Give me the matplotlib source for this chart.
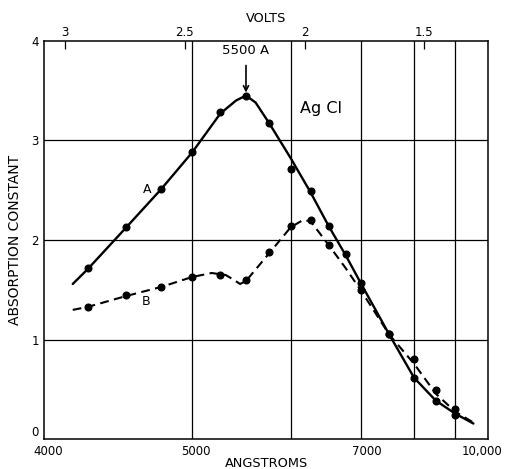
import numpy as np
import matplotlib
matplotlib.use("Agg")
import matplotlib.pyplot as plt
from matplotlib.transforms import ScaledTranslation

# ---- data ----
wl_points_a = [4250, 4500, 4750, 5000, 5250, 5500, 5750, 6000, 6250, 6500, 6750, 7000, 7500, 8000, 8500, 9000]
a_points = [1.72, 2.13, 2.51, 2.88, 3.28, 3.45, 3.17, 2.71, 2.49, 2.14, 1.86, 1.57, 1.06, 0.62, 0.39, 0.25]
wl_points_b = [4250, 4500, 4750, 5000, 5250, 5500, 5750, 6000, 6250, 6500, 7000, 7500, 8000, 8500, 9000]
b_points = [1.33, 1.45, 1.53, 1.63, 1.65, 1.60, 1.88, 2.14, 2.20, 1.95, 1.50, 1.06, 0.81, 0.50, 0.31]

# smooth curves as drawn in the figure
wl_curve_a = [4160, 4250, 4500, 4750, 5000, 5250, 5400, 5500, 5600, 5750, 6000, 6250, 6500, 6750,
              7000, 7500, 8000, 8500, 9000, 9530]
a_curve = [1.56, 1.71, 2.13, 2.51, 2.88, 3.27, 3.40, 3.45, 3.38, 3.17, 2.82, 2.48, 2.14, 1.85,
           1.56, 1.05, 0.62, 0.39, 0.26, 0.16]
wl_curve_b = [4160, 4250, 4500, 4750, 5000, 5170, 5300, 5380, 5440, 5500, 5750, 6000, 6150, 6250,
              6500, 6750, 7000, 7500, 8000, 8500, 9000, 9580]
b_curve = [1.30, 1.33, 1.44, 1.53, 1.63, 1.67, 1.65, 1.60, 1.56, 1.59, 1.87, 2.13, 2.20, 2.19,
           1.95, 1.72, 1.49, 1.05, 0.76, 0.46, 0.28, 0.16]

x_tick_wl = [4000, 5000, 7000, 10000]
x_tick_labels = ["4000", "5000", "7000", "10,000"]
x_grid_wl = [5000, 6000, 7000, 8000, 9000]
y_ticks = [0, 1, 2, 3, 4]
y_grid = [1, 2, 3]
volt_ticks = [3, 2.5, 2, 1.5]
volt_labels = ["3", "2.5", "2", "1.5"]
VOLT_CONST = 12345.0
peak_wl, peak_val = 5500, 3.45

# ---- scale: linear in photon energy (1/lambda) ----
def fwd(x):
    x = np.asarray(x, dtype=float)
    with np.errstate(divide="ignore", invalid="ignore"):
        return -1.0 / x

def inv(y):
    y = np.asarray(y, dtype=float)
    with np.errstate(divide="ignore", invalid="ignore"):
        return -1.0 / y

plt.rcParams["font.family"] = ["DejaVu Sans"]

fig = plt.figure(figsize=(5.07, 4.69), dpi=100)
ax = fig.add_axes([0.0874, 0.0629, 0.8751, 0.8503])
ax.set_xscale("function", functions=(fwd, inv))
ax.set_xlim(4000, 10000)
ax.set_ylim(0, 4)

for w in x_grid_wl:
    ax.axvline(w, color="black", lw=0.9, zorder=1)
for v in y_grid:
    ax.axhline(v, color="black", lw=0.9, zorder=1)

ax.plot(wl_curve_a, a_curve, color="black", lw=1.7, solid_capstyle="round", zorder=3)
ax.plot(wl_curve_b, b_curve, color="black", lw=1.5, linestyle=(0, (4.2, 2.6)), zorder=3)
ax.plot(wl_points_a, a_points, "o", color="black", ms=4.8, zorder=4)
ax.plot(wl_points_b, b_points, "o", color="black", ms=4.8, zorder=4)

ax.set_xticks(x_tick_wl)
ax.set_xticklabels(x_tick_labels)
ax.xaxis.set_minor_locator(matplotlib.ticker.NullLocator())
ax.set_yticks(y_ticks)
ax.set_yticklabels([str(v) for v in y_ticks])
ax.tick_params(axis="both", length=0, labelsize=8.5)
ax.tick_params(axis="x", pad=4)
ax.tick_params(axis="y", pad=4)

# small nudges of tick labels to match the hand lettering
x_shifts = [3, 3, 4, -4]
for lab, dx in zip(ax.get_xticklabels(), x_shifts):
    lab.set_transform(lab.get_transform() + ScaledTranslation(dx / 72, 0, fig.dpi_scale_trans))
ylabs = ax.get_yticklabels()
ylabs[0].set_va("bottom")

ax.set_xlabel("ANGSTROMS", fontsize=9.3)
ax.xaxis.set_label_coords(0.5, -0.0597)
ax.xaxis.label.set_va("center")
ax.set_ylabel("ABSORPTION CONSTANT", fontsize=10)
ax.yaxis.set_label_coords(-0.066, 0.50)
ax.yaxis.label.set_va("center")
for s in ax.spines.values():
    s.set_linewidth(1.1)

ax2 = ax.twiny()
ax2.set_xscale("function", functions=(fwd, inv))
ax2.set_xlim(4000, 10000)
ax2.set_xticks([VOLT_CONST / v for v in volt_ticks])
ax2.set_xticklabels(volt_labels)
ax2.xaxis.set_minor_locator(matplotlib.ticker.NullLocator())
ax2.tick_params(axis="x", direction="in", length=5.5, width=0.9, labelsize=8.5, pad=1)
ax2.set_xlabel("VOLTS", fontsize=9.3, labelpad=3)
for s in ax2.spines.values():
    s.set_visible(False)

ax.annotate("5500 A", xy=(peak_wl, peak_val + 0.03), xytext=(peak_wl, 3.90),
            ha="center", va="center", fontsize=9.5,
            arrowprops=dict(arrowstyle="->", lw=1.2, color="black",
                            shrinkA=4, shrinkB=0, mutation_scale=9))
ax.text(6390, 3.32, "Ag Cl", fontsize=11.5, ha="center", va="center")
ax.text(4643, 2.51, "A", fontsize=9, ha="center", va="center")
ax.text(4640, 1.38, "B", fontsize=9, ha="center", va="center")

fig.savefig("out.png", dpi=100)
